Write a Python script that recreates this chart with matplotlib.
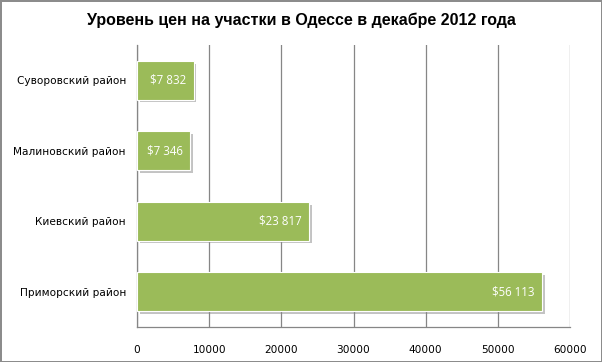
import matplotlib
matplotlib.use("Agg")
import matplotlib.pyplot as plt
import matplotlib.patheffects as pe

categories = ["Суворовский район", "Малиновский район", "Киевский район", "Приморский район"]
values = [7832, 7346, 23817, 56113]
labels = ["$7 832", "$7 346", "$23 817", "$56 113"]
xticks = [0, 10000, 20000, 30000, 40000, 50000, 60000]

fig = plt.figure(figsize=(6.02, 3.62), dpi=100)
fig.patch.set_edgecolor("#8c8c8c")
fig.patch.set_linewidth(2)
ax = fig.add_axes([137/602, 1-327/362, (570-137)/602, (327-45)/362])

y = list(range(len(categories)))
bars = ax.barh(y, values, height=0.55, color="#9bbb59", edgecolor="white", linewidth=0.8, zorder=3)
for b in bars:
    b.set_path_effects([pe.SimplePatchShadow(offset=(2, -2), shadow_rgbFace="#888888", alpha=0.5), pe.Normal()])

ax.set_ylim(3.5, -0.5)
ax.set_xlim(0, 60000)
ax.set_yticks(y)
ax.set_yticklabels(categories, family=["DejaVu Sans"], fontsize=7.6)
ax.set_xticks(xticks)
ax.set_xticklabels([str(t) for t in xticks], family=["DejaVu Sans"], fontsize=7.6)
ax.tick_params(length=0)
ax.tick_params(axis="x", pad=13)
ax.tick_params(axis="y", pad=8)
ax.grid(axis="x", color="#868686", linewidth=0.9, zorder=0)
for s in ["top", "right"]:
    ax.spines[s].set_visible(False)
for s in ["left", "bottom"]:
    ax.spines[s].set_color("#868686")
    ax.spines[s].set_linewidth(0.9)

for yi, v, lab in zip(y, values, labels):
    ax.text(v - 1000, yi, lab, ha="right", va="center", color="white", fontsize=8.3, family=["Open Sans"], zorder=4)

fig.text(0.5, 1-20/362, "Уровень цен на участки в Одессе в декабре 2012 года", ha="center", va="center",
         fontsize=11.5, fontweight="bold", family=["Liberation Sans"])

fig.savefig("out.png", dpi=100, edgecolor=fig.get_edgecolor())
